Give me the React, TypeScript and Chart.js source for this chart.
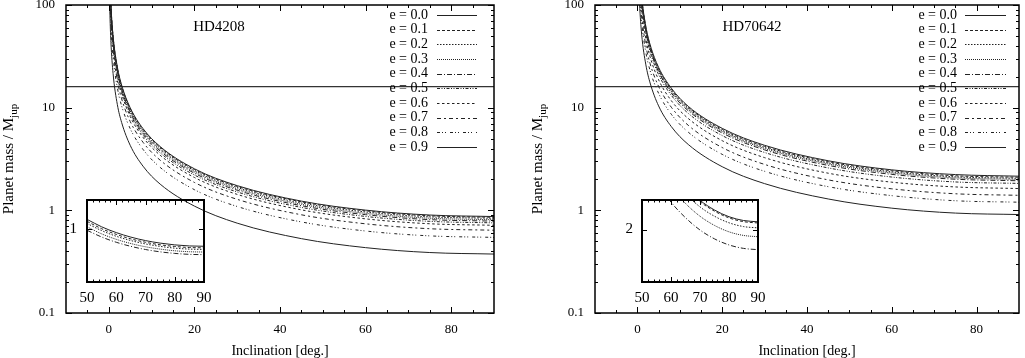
import React, { useEffect, useRef } from "react";
import { Chart, registerables } from "chart.js";

Chart.register(...registerables);

const SERIF = "'Liberation Serif', 'DejaVu Serif', 'Times New Roman', serif";

// ---------- data ----------
const INCLINATION = [0.2, 0.3, 0.5, 1, 2, 3, 5, 8, 12, 20, 30, 45, 60, 75, 90];

const HD4208_E00 = [249, 166, 99.7, 49.9, 24.9, 16.6, 9.98, 6.25, 4.18, 2.54, 1.74, 1.23, 1.005, 0.9, 0.87];
const HD4208_E01 = [245, 163, 98.0, 49.0, 24.5, 16.3, 9.81, 6.14, 4.11, 2.5, 1.71, 1.21, 0.988, 0.885, 0.855];
const HD4208_E02 = [239, 160, 95.7, 47.9, 23.9, 15.96, 9.58, 6.0, 4.02, 2.44, 1.67, 1.18, 0.964, 0.864, 0.835];
const HD4208_E03 = [232, 155, 92.8, 46.4, 23.2, 15.5, 9.29, 5.82, 3.9, 2.37, 1.62, 1.145, 0.935, 0.838, 0.81];
const HD4208_E04 = [225, 150, 90.0, 45.0, 22.5, 15.0, 9.0, 5.64, 3.78, 2.3, 1.57, 1.11, 0.907, 0.812, 0.785];
const HD4208_E05 = [216, 144, 86.5, 43.3, 21.6, 14.4, 8.66, 5.42, 3.63, 2.21, 1.51, 1.068, 0.872, 0.781, 0.755];
const HD4208_E06 = [205, 137, 81.9, 41.0, 20.5, 13.7, 8.2, 5.14, 3.44, 2.09, 1.43, 1.011, 0.826, 0.74, 0.715];
const HD4208_E07 = [183, 122, 73.3, 36.7, 18.3, 12.2, 7.34, 4.6, 3.08, 1.87, 1.28, 0.905, 0.739, 0.662, 0.64];
const HD4208_E08 = [156, 104, 62.5, 31.2, 15.6, 10.4, 6.25, 3.92, 2.62, 1.59, 1.09, 0.771, 0.629, 0.564, 0.545];
const HD4208_E09 = [107, 71.6, 43.0, 21.5, 10.7, 7.17, 4.3, 2.69, 1.8, 1.1, 0.75, 0.53, 0.433, 0.388, 0.375];

const HD70642_E00 = [616, 411, 246, 123, 61.6, 41.1, 24.7, 15.5, 10.3, 6.29, 4.3, 3.04, 2.48, 2.23, 2.15];
const HD70642_E01 = [602, 401, 241, 120, 60.2, 40.1, 24.1, 15.1, 10.1, 6.14, 4.2, 2.97, 2.43, 2.17, 2.1];
const HD70642_E02 = [587, 392, 235, 117, 58.7, 39.2, 23.5, 14.7, 9.86, 5.99, 4.1, 2.9, 2.37, 2.12, 2.05];
const HD70642_E03 = [573, 382, 229, 115, 57.3, 38.2, 22.9, 14.4, 9.62, 5.85, 4.0, 2.83, 2.31, 2.07, 2.0];
const HD70642_E04 = [556, 371, 222, 111, 55.6, 37.1, 22.3, 13.9, 9.33, 5.67, 3.88, 2.74, 2.24, 2.01, 1.94];
const HD70642_E05 = [524, 350, 210, 105, 52.4, 35.0, 21.0, 13.2, 8.8, 5.35, 3.66, 2.59, 2.11, 1.89, 1.83];
const HD70642_E06 = [467, 311, 187, 93.4, 46.7, 31.2, 18.7, 11.7, 7.84, 4.77, 3.26, 2.3, 1.88, 1.69, 1.63];
const HD70642_E07 = [401, 267, 160, 80.2, 40.1, 26.8, 16.1, 10.1, 6.73, 4.09, 2.8, 1.98, 1.62, 1.45, 1.4];
const HD70642_E08 = [344, 229, 138, 68.8, 34.4, 22.9, 13.8, 8.62, 5.77, 3.51, 2.4, 1.7, 1.39, 1.24, 1.2];
const HD70642_E09 = [261, 174, 104, 52.1, 26.1, 17.4, 10.4, 6.54, 4.38, 2.66, 1.82, 1.29, 1.05, 0.94, 0.91];

const LIMIT_X = [-10, 90];
const LIMIT_Y = [16, 16];

const INSET_INCL = [50, 55, 60, 65, 70, 75, 80, 85, 90];
const HD4208_INSET_A = [1.096, 1.025, 0.97, 0.927, 0.894, 0.87, 0.853, 0.843, 0.84];
const HD4208_INSET_B = [1.077, 1.007, 0.953, 0.91, 0.878, 0.854, 0.838, 0.828, 0.825];
const HD4208_INSET_C = [1.057, 0.989, 0.935, 0.894, 0.862, 0.839, 0.822, 0.813, 0.81];
const HD4208_INSET_D = [1.025, 0.958, 0.906, 0.866, 0.835, 0.813, 0.797, 0.788, 0.785];
const HD4208_INSET_E = [0.992, 0.928, 0.878, 0.839, 0.809, 0.787, 0.772, 0.763, 0.76];

const HD70642_INSET_A = [2.672, 2.499, 2.364, 2.259, 2.178, 2.119, 2.078, 2.055, 2.047];
const HD70642_INSET_B = [2.663, 2.491, 2.356, 2.252, 2.17, 2.112, 2.071, 2.048, 2.04];
const HD70642_INSET_C = [2.624, 2.454, 2.321, 2.219, 2.138, 2.081, 2.041, 2.018, 2.01];
const HD70642_INSET_D = [2.553, 2.388, 2.259, 2.159, 2.081, 2.025, 1.986, 1.964, 1.956];
const HD70642_INSET_E = [2.45, 2.292, 2.167, 2.072, 1.997, 1.943, 1.906, 1.885, 1.877];

const E_LABELS = ["e = 0.0", "e = 0.1", "e = 0.2", "e = 0.3", "e = 0.4", "e = 0.5", "e = 0.6", "e = 0.7", "e = 0.8", "e = 0.9"];

const X_TICKS = [0, 20, 40, 60, 80];
const X_TICK_LABELS = ["0", "20", "40", "60", "80"];
const X_MINOR = [-5, 5, 10, 15, 25, 30, 35, 45, 50, 55, 65, 70, 75, 85];
const Y_TICKS = [0.1, 1, 10, 100];
const Y_TICK_LABELS = ["0.1", "1", "10", "100"];
const Y_MINOR = [0.2, 0.3, 0.4, 0.5, 0.6, 0.7, 0.8, 0.9, 2, 3, 4, 5, 6, 7, 8, 9, 20, 30, 40, 50, 60, 70, 80, 90];

const INSET_X_TICKS = [50, 60, 70, 80, 90];
const INSET_X_LABELS = ["50", "60", "70", "80", "90"];
const INSET_X_MINOR = [52, 54, 56, 58, 62, 64, 66, 68, 72, 74, 76, 78, 82, 84, 86, 88];

const HD4208_SERIES = [HD4208_E00, HD4208_E01, HD4208_E02, HD4208_E03, HD4208_E04, HD4208_E05, HD4208_E06, HD4208_E07, HD4208_E08, HD4208_E09];
const HD70642_SERIES = [HD70642_E00, HD70642_E01, HD70642_E02, HD70642_E03, HD70642_E04, HD70642_E05, HD70642_E06, HD70642_E07, HD70642_E08, HD70642_E09];
const HD4208_INSET = [HD4208_INSET_A, HD4208_INSET_B, HD4208_INSET_C, HD4208_INSET_D, HD4208_INSET_E];
const HD70642_INSET = [HD70642_INSET_A, HD70642_INSET_B, HD70642_INSET_C, HD70642_INSET_D, HD70642_INSET_E];

// ---------- styles ----------
const DASHES: number[][] = [[], [3, 2], [1.5, 1.5], [1, 1], [5, 2, 1, 2], [3, 1.5, 1, 1.5, 1, 1.5], [2.5, 2.5], [4, 3, 2, 3], [3, 2, 1, 2, 1, 4], []];
const LINE_COLOR = "#222";

// ---------- plugins ----------
const framePlugin = {
  id: "frame",
  afterDraw(chart: any) {
    const o = chart.options.plugins.frame;
    if (!o) return;
    const { ctx, chartArea: a, scales } = chart;
    const xs = scales.x;
    const ys = scales.y;
    ctx.save();
    ctx.strokeStyle = "#000";
    ctx.lineWidth = 1;
    ctx.beginPath();
    const xt = (vals: number[], len: number) => {
      vals.forEach((v) => {
        const p = Math.round(xs.getPixelForValue(v)) + 0.5;
        ctx.moveTo(p, a.bottom);
        ctx.lineTo(p, a.bottom - len);
        ctx.moveTo(p, a.top);
        ctx.lineTo(p, a.top + len);
      });
    };
    const yt = (vals: number[], len: number) => {
      vals.forEach((v) => {
        const p = Math.round(ys.getPixelForValue(v)) + 0.5;
        ctx.moveTo(a.left, p);
        ctx.lineTo(a.left + len, p);
        ctx.moveTo(a.right, p);
        ctx.lineTo(a.right - len, p);
      });
    };
    xt(o.xMajor, o.major);
    xt(o.xMinor, o.minor);
    yt(o.yMajor, o.major);
    yt(o.yMinor, o.minor);
    ctx.stroke();
    ctx.lineWidth = o.lineWidth;
    ctx.strokeRect(a.left, a.top, a.right - a.left, a.bottom - a.top);
    ctx.restore();
  },
};

const annotPlugin = {
  id: "annot",
  afterDraw(chart: any) {
    const o = chart.options.plugins.annot;
    if (!o) return;
    const { ctx, chartArea: a } = chart;
    ctx.save();
    ctx.fillStyle = "#000";
    ctx.textBaseline = "middle";
    // panel title
    ctx.font = `15px ${SERIF}`;
    ctx.textAlign = "center";
    ctx.fillText(o.title, o.titleX, o.titleY);
    // x title
    ctx.font = `14px ${SERIF}`;
    ctx.fillText("Inclination [deg.]", (a.left + a.right) / 2, o.xTitleY);
    // y title with subscript
    ctx.save();
    ctx.translate(o.yTitleX, (a.top + a.bottom) / 2);
    ctx.rotate(-Math.PI / 2);
    ctx.textAlign = "left";
    ctx.font = `15px ${SERIF}`;
    const main = "Planet mass / M";
    const w1 = ctx.measureText(main).width;
    ctx.font = `11px ${SERIF}`;
    const sub = "jup";
    const w2 = ctx.measureText(sub).width;
    const start = -(w1 + w2) / 2;
    ctx.font = `15px ${SERIF}`;
    ctx.fillText(main, start, 0);
    ctx.font = `11px ${SERIF}`;
    ctx.fillText(sub, start + w1, 5);
    ctx.restore();
    // legend
    ctx.font = `14px ${SERIF}`;
    ctx.textAlign = "right";
    for (let i = 0; i < E_LABELS.length; i++) {
      const y = o.legendY0 + i * o.legendDy;
      ctx.fillText(E_LABELS[i], o.legendTextRight, y);
      const ds = chart.data.datasets[i];
      ctx.save();
      ctx.strokeStyle = LINE_COLOR;
      ctx.lineWidth = 1;
      ctx.setLineDash(ds.borderDash || []);
      ctx.beginPath();
      const yy = Math.round(y) + 0.5;
      ctx.moveTo(o.legendLineX1, yy);
      ctx.lineTo(o.legendLineX2, yy);
      ctx.stroke();
      ctx.restore();
    }
    ctx.restore();
  },
};

// ---------- config builders ----------
function zeroPad(s: any) {
  s.paddingLeft = 0;
  s.paddingRight = 0;
  s.paddingTop = 0;
  s.paddingBottom = 0;
}

function mainConfig(series: number[][], yAxisWidth: number, padRight: number, annot: any) {
  const datasets: any[] = series.map((arr, i) => ({
    label: E_LABELS[i],
    data: INCLINATION.map((x, j) => ({ x, y: arr[j] })),
    borderColor: LINE_COLOR,
    borderWidth: 1,
    borderDash: DASHES[i],
    pointRadius: 0,
    cubicInterpolationMode: "monotone",
    fill: false,
    clip: 0,
  }));
  datasets.push({
    label: "limit",
    data: LIMIT_X.map((x, j) => ({ x, y: LIMIT_Y[j] })),
    borderColor: "#000",
    borderWidth: 1,
    pointRadius: 0,
    fill: false,
    clip: 0,
  });
  return {
    type: "line",
    data: { datasets },
    options: {
      animation: false,
      responsive: false,
      devicePixelRatio: 1,
      events: [],
      layout: { padding: { left: 0, top: 5, right: padRight, bottom: 0 } },
      plugins: {
        legend: { display: false },
        tooltip: { enabled: false },
        frame: { xMajor: X_TICKS, xMinor: X_MINOR, yMajor: Y_TICKS, yMinor: Y_MINOR, major: 6, minor: 3, lineWidth: 1.5 },
        annot,
      },
      scales: {
        x: {
          type: "linear",
          min: -10,
          max: 90,
          afterBuildTicks: (s: any) => {
            s.ticks = X_TICKS.map((v) => ({ value: v }));
          },
          afterFit: (s: any) => {
            s.height = 45;
            zeroPad(s);
          },
          ticks: {
            callback: (_v: any, i: number) => X_TICK_LABELS[i],
            autoSkip: false,
            maxRotation: 0,
            padding: 9,
            color: "#000",
            font: { family: SERIF, size: 13 },
          },
          grid: { display: false, drawTicks: false },
          border: { display: false },
        },
        y: {
          type: "logarithmic",
          min: 0.1,
          max: 100,
          afterBuildTicks: (s: any) => {
            s.ticks = Y_TICKS.map((v) => ({ value: v }));
          },
          afterFit: (s: any) => {
            s.width = yAxisWidth;
            zeroPad(s);
          },
          ticks: {
            callback: (_v: any, i: number) => Y_TICK_LABELS[i],
            autoSkip: false,
            padding: 11,
            color: "#000",
            font: { family: SERIF, size: 13 },
          },
          grid: { display: false, drawTicks: false },
          border: { display: false },
        },
      },
    },
    plugins: [framePlugin, annotPlugin],
  };
}

function insetConfig(series: number[][], yMin: number, yMax: number, yTick: number, yLabel: string, padRight: number, yPad: number) {
  const datasets: any[] = series.map((arr, i) => ({
    label: E_LABELS[i],
    data: INSET_INCL.map((x, j) => ({ x, y: arr[j] })),
    borderColor: LINE_COLOR,
    borderWidth: 1,
    borderDash: DASHES[i],
    pointRadius: 0,
    cubicInterpolationMode: "monotone",
    fill: false,
    clip: 0,
  }));
  return {
    type: "line",
    data: { datasets },
    options: {
      animation: false,
      responsive: false,
      devicePixelRatio: 1,
      events: [],
      layout: { padding: { left: 0, top: 10, right: padRight, bottom: 0 } },
      plugins: {
        legend: { display: false },
        tooltip: { enabled: false },
        frame: { xMajor: INSET_X_TICKS, xMinor: INSET_X_MINOR, yMajor: [yTick], yMinor: [], major: 5, minor: 2.5, lineWidth: 2 },
      },
      scales: {
        x: {
          type: "linear",
          min: 50,
          max: 90,
          afterBuildTicks: (s: any) => {
            s.ticks = INSET_X_TICKS.map((v) => ({ value: v }));
          },
          afterFit: (s: any) => {
            s.height = 33;
            zeroPad(s);
          },
          ticks: {
            callback: (_v: any, i: number) => INSET_X_LABELS[i],
            autoSkip: false,
            maxRotation: 0,
            padding: 7,
            color: "#000",
            font: { family: SERIF, size: 15 },
          },
          grid: { display: false, drawTicks: false },
          border: { display: false },
        },
        y: {
          type: "linear",
          min: yMin,
          max: yMax,
          afterBuildTicks: (s: any) => {
            s.ticks = [{ value: yTick }];
          },
          afterFit: (s: any) => {
            s.width = 30;
            zeroPad(s);
          },
          ticks: {
            callback: () => yLabel,
            autoSkip: false,
            padding: yPad,
            color: "#000",
            font: { family: SERIF, size: 15 },
          },
          grid: { display: false, drawTicks: false },
          border: { display: false },
        },
      },
    },
    plugins: [framePlugin],
  };
}

export default function App() {
  const leftRef = useRef<HTMLCanvasElement>(null);
  const rightRef = useRef<HTMLCanvasElement>(null);
  const leftInsetRef = useRef<HTMLCanvasElement>(null);
  const rightInsetRef = useRef<HTMLCanvasElement>(null);

  useEffect(() => {
    const charts: Chart[] = [];
    charts.push(
      new Chart(
        leftRef.current as HTMLCanvasElement,
        mainConfig(HD4208_SERIES, 66, 18, {
          title: "HD4208",
          titleX: 219,
          titleY: 27,
          xTitleY: 351,
          yTitleX: 9,
          legendTextRight: 428,
          legendLineX1: 437,
          legendLineX2: 477,
          legendY0: 15,
          legendDy: 14.667,
        }) as any
      )
    );
    charts.push(
      new Chart(
        rightRef.current as HTMLCanvasElement,
        mainConfig(HD70642_SERIES, 83, 6, {
          title: "HD70642",
          titleX: 240,
          titleY: 27,
          xTitleY: 351,
          yTitleX: 26,
          legendTextRight: 445,
          legendLineX1: 453,
          legendLineX2: 494,
          legendY0: 15,
          legendDy: 14.667,
        }) as any
      )
    );
    charts.push(new Chart(leftInsetRef.current as HTMLCanvasElement, insetConfig(HD4208_INSET, 0.5, 1.28, 1, "1", 18, 10) as any));
    charts.push(new Chart(rightInsetRef.current as HTMLCanvasElement, insetConfig(HD70642_INSET, 1.68, 2.18, 2, "2", 19, 9) as any));
    return () => charts.forEach((c) => c.destroy());
  }, []);

  return (
    <div style={{ position: "fixed", left: 0, top: 0, width: 1025, height: 358, background: "#fff", overflow: "hidden" }}>
      <canvas ref={leftRef} width={512} height={358} style={{ position: "absolute", left: 0, top: 0, width: 512, height: 358 }} />
      <canvas ref={rightRef} width={513} height={358} style={{ position: "absolute", left: 512, top: 0, width: 513, height: 358 }} />
      <canvas ref={leftInsetRef} width={165} height={125} style={{ position: "absolute", left: 57, top: 190, width: 165, height: 125 }} />
      <canvas ref={rightInsetRef} width={165} height={125} style={{ position: "absolute", left: 612, top: 190, width: 165, height: 125 }} />
    </div>
  );
}
